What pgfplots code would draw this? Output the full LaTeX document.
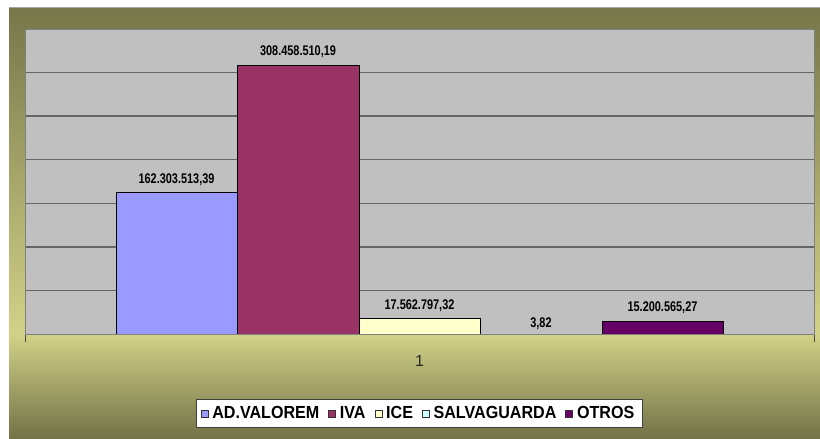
\documentclass[border=0pt]{standalone}
\usepackage{pgfplots}
\pgfplotsset{compat=1.18}
\usepackage{fontspec}
\setmainfont{Liberation Sans}
\newfontfamily\lblfont[FakeStretch=0.78]{Liberation Sans}
\newfontfamily\legfont[FakeStretch=0.92]{Liberation Sans}

\definecolor{advalorem}{HTML}{9999FF}
\definecolor{iva}{HTML}{993366}
\definecolor{ice}{HTML}{FFFFCC}
\definecolor{salva}{HTML}{CCFFFF}
\definecolor{otros}{HTML}{660066}
\definecolor{plotbg}{HTML}{C0C0C0}
\definecolor{olivedark}{HTML}{76764A}
\definecolor{olivelight}{HTML}{D2D288}
\definecolor{olivebottom}{HTML}{727247}

\pgfplotsset{
  sq/.style={legend image code/.code={%
    \draw[##1,draw=black!80,line width=0.6pt] (0pt,-3.5pt) rectangle (7pt,3.5pt);}},
}

\begin{document}
\begin{tikzpicture}[x=1pt,y=1pt]
\path[use as bounding box] (0,0) rectangle (820,439);
\fill[white] (0,0) rectangle (820,439);
\shade[top color=olivedark, bottom color=olivelight] (9,105) rectangle (820,431);
\shade[top color=olivelight, bottom color=olivebottom] (9,0) rectangle (820,105.5);
\draw[black!35, line width=1pt] (9,431.5) -- (820,431.5);
\begin{axis}[
  at={(25pt,105pt)}, anchor=south west,
  scale only axis, width=789pt, height=305pt,
  ybar=0pt, bar width=121.5pt,
  xmin=0.5, xmax=1.5, ymin=0, ymax=350000000,
  axis background/.style={fill=plotbg},
  axis line style={draw=black!50, line width=0.8pt},
  xtick={1}, xticklabels={1},
  minor xtick={0.5,1.5},
  major tick length=0pt, minor tick length=8pt,
  xtick align=outside, tick pos=left,
  minor tick style={draw=black!70, line width=1pt},
  xticklabel style={font=\fontsize{16}{16}\selectfont, text=black!85, yshift=-18pt},
  ytick={50000000,100000000,150000000,200000000,250000000,300000000},
  yticklabels={}, scaled y ticks=false,
  ymajorgrids, grid style={draw=black!60, line width=1.5pt},
  point meta=explicit symbolic,
  nodes near coords,
  every node near coord/.append style={font=\lblfont\bfseries\fontsize{14}{14}\selectfont,
    text=black, inner sep=0pt, yshift=7pt},
  legend columns=5,
  legend style={at={(0.5,-0.2607)}, anchor=center, draw=black!75, line width=1pt,
    fill=white, font=\legfont\bfseries\fontsize{17.5}{18}\selectfont,
    inner xsep=4pt, inner ysep=5pt,
    nodes={inner xsep=4pt},
    /tikz/every even column/.append style={column sep=5pt}},
]
\addplot[fill=advalorem, draw=black, sq] coordinates {(1,162303513.39) [162.303.513,39]};
\addplot[fill=iva, draw=black, sq] coordinates {(1,308458510.19) [308.458.510,19]};
\addplot[fill=ice, draw=black, sq] coordinates {(1,17562797.32) [17.562.797,32]};
\addplot[fill=salva, draw=black, sq, every node near coord/.append style={yshift=-3pt}] coordinates {(1,3.82) [3,82]};
\addplot[fill=otros, draw=black, sq] coordinates {(1,15200565.27) [15.200.565,27]};
\legend{AD.VALOREM, IVA, ICE, SALVAGUARDA, OTROS}
\end{axis}
\end{tikzpicture}
\end{document}
